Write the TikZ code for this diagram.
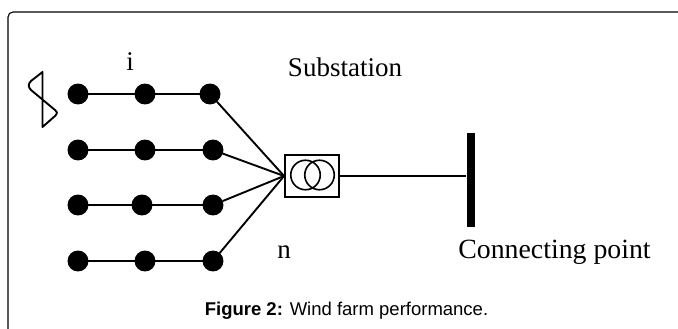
\documentclass[tikz,border=0pt]{standalone}
\usepackage{fontspec}
\setmainfont{Liberation Serif}
\newfontfamily\capfont{Liberation Sans}
\tikzset{
	unit/.style={circle, fill=black, draw=black, inner sep=0pt, minimum width=18pt, minimum height=19pt},
	winding/.style={circle, draw, line width=1.6pt, inner sep=0pt, minimum size=29.5pt},
	label/.style={inner sep=0pt, font=\fontsize{27}{30}\selectfont},
}
\begin{document}
\begin{tikzpicture}[x=1pt, y=-1pt, line width=1.9pt]
			\useasboundingbox (0, 0) rectangle (678, 329);
			\coordinate (f1) at (8, 329);
			\coordinate (f2) at (678, 12);
			\draw [line width=1.1pt, rounded corners=5pt] (f1) -- (8, 12) -- (f2);
			\draw (78, 94) node [unit] (a1) {};
			\draw (145, 94) node [unit] (a2) {};
			\draw (210, 94) node [unit] (a3) {};
			\draw (78, 150) node [unit] (b1) {};
			\draw (145, 150) node [unit] (b2) {};
			\draw (213, 150) node [unit] (b3) {};
			\draw (78, 205) node [unit] (c1) {};
			\draw (142, 205) node [unit] (c2) {};
			\draw (213, 205) node [unit] (c3) {};
			\draw (78, 261) node [unit] (d1) {};
			\draw (145, 261) node [unit] (d2) {};
			\draw (213, 261) node [unit] (d3) {};
			\draw (312, 176) node [rectangle, draw, minimum width=54pt, minimum height=42pt, inner sep=0pt] (box) {};
			\draw (305.5, 175) node [winding] (w1) {};
			\draw (319.5, 175) node [winding] (w2) {};
			\draw (471, 180) node [rectangle, fill=black, inner sep=0pt, minimum width=8pt, minimum height=94pt] (bar) {};
			\path (a1) edge (a2) (a2) edge (a3);
			\path (b1) edge (b2) (b2) edge (b3);
			\path (c1) edge (c2) (c2) edge (c3);
			\path (d1) edge (d2) (d2) edge (d3);
			\path (a3) edge (box.west);
			\path (b3) edge (box.west);
			\path (c3) edge (box.west);
			\path (d3) edge (box.west);
			\path (box.east) edge (box.east -| bar.west);
			% turbine blades
			\draw [line join=round] (42.5, 72) -- (42.5, 127) -- (55, 116) .. controls (58, 113) and (57, 111) .. (55, 110) -- (31, 90) .. controls (28, 87) and (28, 84) .. (31, 81) -- cycle;
			\draw (130, 62) node [label] (i) {i};
			\draw (345, 67) node [label] (sub) {Substation};
			\draw (284, 252) node [label] (n) {n};
			\draw (554.5, 252) node [label, font=\fontsize{27.8}{30}\selectfont] (cp) {Connecting point};
			\draw (346.5, 311) node [inner sep=0pt, font=\fontsize{18.5}{20}\capfont] (cap) {\textbf{Figure 2:} Wind farm performance.};
		\end{tikzpicture}
\end{document}
